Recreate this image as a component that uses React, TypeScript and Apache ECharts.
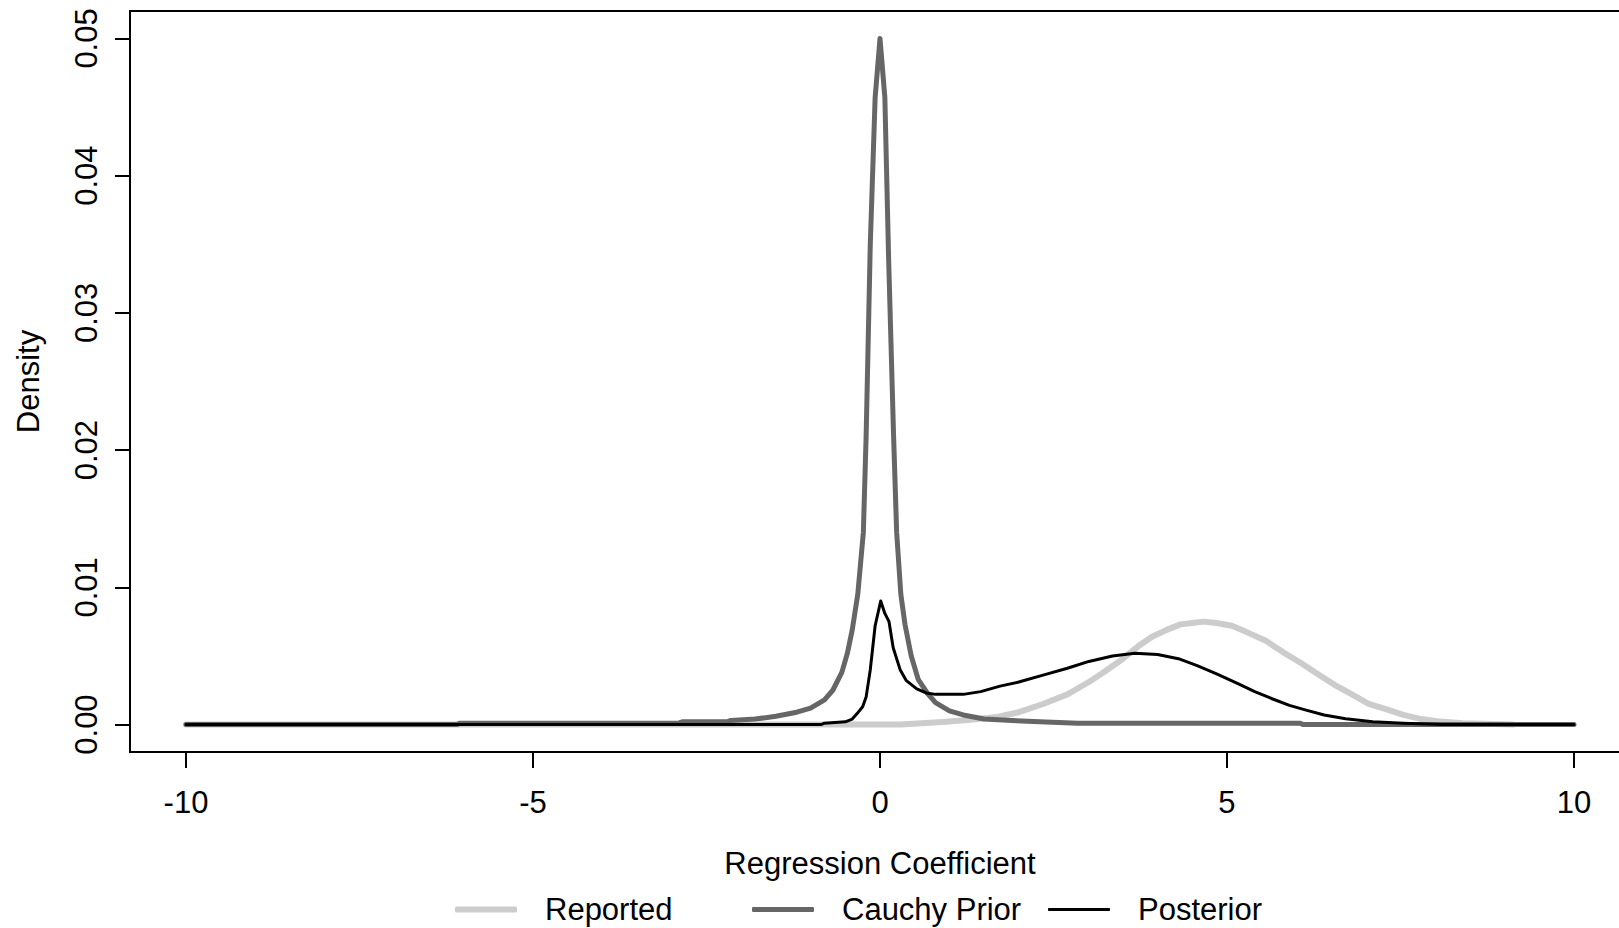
import React, { useEffect, useRef } from "react";
import * as echarts from "echarts";

const FONT = '"Liberation Sans", Arial, Helvetica, sans-serif';

const xTicks = [-10, -5, 0, 5, 10];
const yTicks = [0, 0.01, 0.02, 0.03, 0.04, 0.05];

// Reported (light grey)
const reportedX = [-10, 0.3, 0.6, 0.95, 1.3, 1.69, 2.0, 2.35, 2.7, 3.01, 3.25, 3.5, 3.72, 3.92, 4.13, 4.33, 4.5, 4.66, 4.85, 5.07, 5.3, 5.56, 5.8, 6.06, 6.3, 6.55, 6.8, 7.04, 7.3, 7.54, 7.8, 8.03, 8.4, 9.12];
const reportedY = [0, 0, 0.0001, 0.0002, 0.00035, 0.00055, 0.0009, 0.0015, 0.0022, 0.0031, 0.0039, 0.0048, 0.0057, 0.0064, 0.0069, 0.0073, 0.0074, 0.0075, 0.0074, 0.0072, 0.0067, 0.0061, 0.0053, 0.0045, 0.0037, 0.0029, 0.0022, 0.0015, 0.0011, 0.0007, 0.0004, 0.00024, 0.0001, 0];

// Cauchy Prior (dark grey)
const cauchyX = [-10, -6.1, -6.05, -2.9, -2.85, -2.2, -2.15, -1.8, -1.5, -1.2, -1.0, -0.8, -0.68, -0.55, -0.47, -0.4, -0.32, -0.24, -0.2, -0.14, -0.07, 0, 0.07, 0.124, 0.196, 0.24, 0.3, 0.36, 0.45, 0.55, 0.68, 0.8, 1.0, 1.2, 1.5, 1.9, 2.3, 2.85, 6.05, 6.1, 10];
const cauchyY = [0, 0, 0.0001, 0.0001, 0.0002, 0.0002, 0.0003, 0.0004, 0.0006, 0.0009, 0.0012, 0.0018, 0.0025, 0.0038, 0.0052, 0.0069, 0.0095, 0.014, 0.021, 0.035, 0.0457, 0.05, 0.0457, 0.034, 0.021, 0.014, 0.0095, 0.0073, 0.005, 0.0033, 0.0023, 0.0016, 0.001, 0.0007, 0.0004, 0.0003, 0.0002, 0.0001, 0.0001, 0, 0];

// Posterior (black)
const posteriorX = [-10, -0.85, -0.8, -0.5, -0.4, -0.33, -0.25, -0.2, -0.14, -0.07, 0.01, 0.07, 0.13, 0.19, 0.29, 0.38, 0.53, 0.67, 0.8, 1.2, 1.45, 1.73, 2.0, 2.35, 2.7, 3.01, 3.35, 3.67, 4.0, 4.3, 4.57, 4.85, 5.15, 5.4, 5.64, 5.9, 6.14, 6.4, 6.71, 7.1, 7.54, 8.1, 10];
const posteriorY = [0, 0, 0.0001, 0.0002, 0.0004, 0.0008, 0.0013, 0.002, 0.004, 0.0072, 0.009, 0.0081, 0.0075, 0.0056, 0.004, 0.0032, 0.0026, 0.0023, 0.0022, 0.0022, 0.0024, 0.0028, 0.0031, 0.0036, 0.0041, 0.0046, 0.005, 0.0052, 0.0051, 0.0048, 0.0043, 0.0037, 0.003, 0.0024, 0.0019, 0.0014, 0.00105, 0.0007, 0.00043, 0.0002, 0.0001, 0, 0];

const seriesNames = ["Reported", "Cauchy Prior", "Posterior"];
const seriesColors = ["#cccccc", "#666666", "#000000"];
const seriesWidths = [6, 5, 3];

const zip = (xs: number[], ys: number[]) => xs.map((x, i) => [x, ys[i]]);

export default function App() {
  const ref = useRef<HTMLDivElement>(null);
  useEffect(() => {
    if (!ref.current) return;
    const chart = echarts.init(ref.current, null, { renderer: "svg" });
    const datas = [zip(reportedX, reportedY), zip(cauchyX, cauchyY), zip(posteriorX, posteriorY)];
    const legendLefts = [450, 747, 1043];
    const labelStyle = { fontSize: 31, color: "#000", fontFamily: FONT };
    chart.setOption({
      animation: false,
      grid: {
        left: 130,
        top: 11,
        width: 1500,
        height: 741,
        show: true,
        borderColor: "#000",
        borderWidth: 2,
        backgroundColor: "transparent",
        outerBoundsMode: "none",
        containLabel: false,
      },
      legend: seriesNames.map((n, i) => ({
        left: legendLefts[i],
        top: 889,
        padding: 5,
        orient: "horizontal",
        itemWidth: 62,
        itemHeight: seriesWidths[i],
        icon: "roundRect",
        data: [n],
        selectedMode: false,
        textStyle: { ...labelStyle, lineHeight: 31, padding: [0, 0, 0, 23] },
      })),
      xAxis: {
        type: "value",
        min: -10.807,
        max: 10.807,
        name: "Regression Coefficient",
        nameLocation: "middle",
        nameGap: 96,
        nameTextStyle: labelStyle,
        axisLine: { show: false, onZero: false },
        axisTick: { show: true, length: 16, lineStyle: { color: "#000", width: 2 }, customValues: xTicks },
        axisLabel: { customValues: xTicks, margin: 35, ...labelStyle, formatter: (v: number) => String(v) },
        splitLine: { show: false },
      },
      yAxis: {
        type: "value",
        min: -0.002,
        max: 0.052,
        name: "Density",
        nameLocation: "middle",
        nameGap: 86,
        nameTextStyle: labelStyle,
        axisLine: { show: false, onZero: false },
        axisTick: { show: true, length: 15, lineStyle: { color: "#000", width: 2 }, customValues: yTicks },
        axisLabel: { customValues: yTicks, margin: 28, rotate: 90, ...labelStyle, formatter: (v: number) => v.toFixed(2) },
        splitLine: { show: false },
      },
      series: seriesNames.map((n, i) => ({
        name: n,
        type: "line",
        data: datas[i],
        showSymbol: false,
        symbol: "none",
        silent: true,
        color: seriesColors[i],
        itemStyle: { color: seriesColors[i] },
        lineStyle: { color: seriesColors[i], width: seriesWidths[i], cap: "round", join: "round" },
        z: 2 + i,
      })),
    });
    return () => chart.dispose();
  }, []);
  return (
    <div
      ref={ref}
      style={{ position: "absolute", left: 0, top: 0, width: 1619, height: 928, background: "#fff" }}
    />
  );
}
